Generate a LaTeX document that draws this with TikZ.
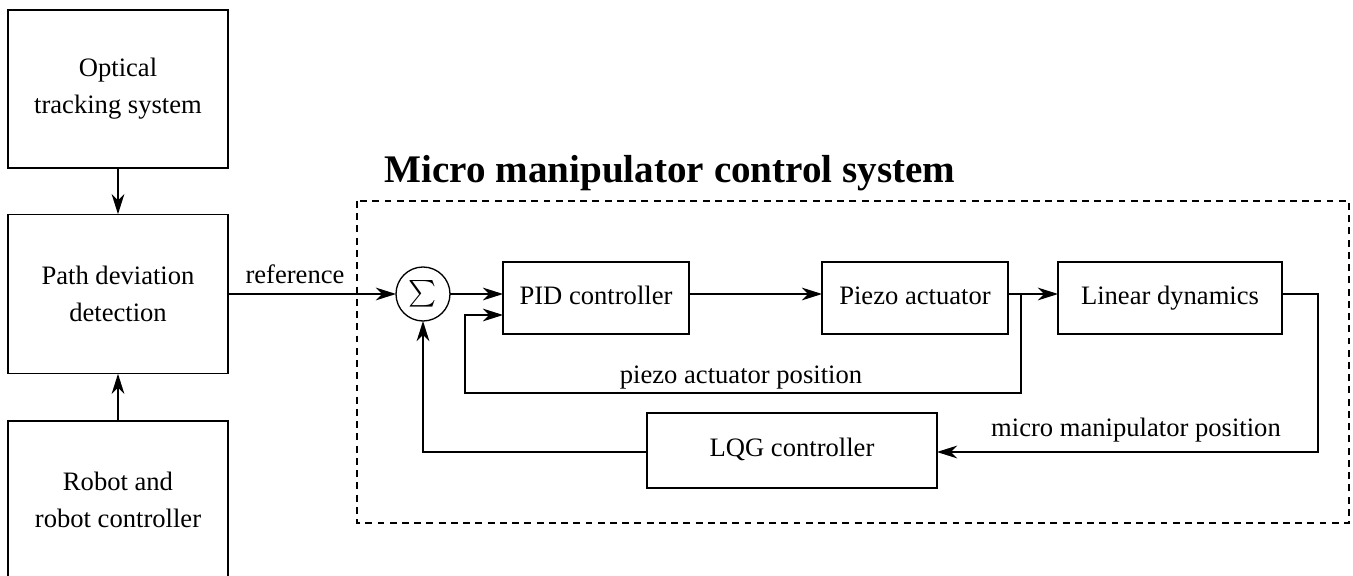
\documentclass[tikz,border=0pt]{standalone}
\usepackage{fontspec}
\setmainfont{Liberation Serif}
\usetikzlibrary{arrows.meta}
\begin{document}
\begin{tikzpicture}[x=0.376pt,y=-0.376pt,
  every path/.style={line width=0.5pt},
  blk/.style={draw, line width=0.5pt, inner sep=0pt, outer sep=0pt, align=center,
    font=\fontsize{10pt}{14pt}\selectfont},
  one/.style={blk, text height=7pt, text depth=2.2pt},
  lbl/.style={font=\fontsize{10pt}{12pt}\selectfont, inner sep=0pt, anchor=base},
  arr/.style={-{Stealth[length=7.6pt,width=4.8pt,inset=2.4pt]}},
  frame/.style={draw, dash pattern=on 2.6pt off 2pt, line width=0.5pt}]
\useasboundingbox (0,0) rectangle (1353,576);

% left column
\node[blk, minimum width=82.7pt, minimum height=59.4pt] (opt) at (118,89) {Optical\\tracking system};
\node[blk, minimum width=82.7pt, minimum height=60pt] (path) at (118,294) {Path deviation\\detection};
\node[blk, minimum width=82.7pt, minimum height=59.4pt] (rob) at (118,500) {Robot and\\robot controller};

% frame and title
\draw[frame] (357,201) rectangle (1349,523);
\node[font=\fontsize{14.7pt}{16pt}\selectfont\bfseries, inner sep=0pt, anchor=base west] (title) at (384,183) {Micro manipulator control system};

% control loop blocks
\node[draw, circle, minimum size=20.3pt, inner sep=0pt, outer sep=0pt] (sum) at (423,294) {\fontsize{12pt}{13pt}\selectfont$\sum$};
\node[one, minimum width=69.9pt, minimum height=27.1pt] (pid) at (596,298) {PID controller};
\node[one, minimum width=69.9pt, minimum height=27.1pt] (piezo) at (915,298) {Piezo actuator};
\node[one, minimum width=84.2pt, minimum height=27.1pt] (lin) at (1170,298) {Linear dynamics};
\node[one, minimum width=109pt, minimum height=28.2pt] (lqg) at (792,450.5) {LQG controller};

% coordinates
\coordinate (br) at (1021,294);
\coordinate (b1) at (1021,393);
\coordinate (b2) at (465,393);
\coordinate (b3) at (465,315);
\coordinate (m0) at (1282,294);
\coordinate (m1) at (1318,294);
\coordinate (m2) at (1318,452);
\coordinate (l1) at (423,452);

% connectors
\draw[arr] (opt.south) -- (path.north);
\draw[arr] (rob.north) -- (path.south);
\draw[arr] (path.east |- sum) -- (sum.west);
\node[lbl] (reflbl) at (295,284) {reference};
\draw[arr] (sum.east) -- (pid.west |- sum);
\draw[arr] (pid.east |- sum) -- (piezo.west |- sum);
\draw[arr] (piezo.east |- sum) -- (lin.west |- sum);
\draw[arr] (br) -- (b1) -- (b2) -- (b3) -- (pid.west |- b3);
\node[lbl] (pzlbl) at (741,384) {piezo actuator position};
\draw[arr] (lin.east |- m0) -- (m1) -- (m2) -- (lqg.east |- m2);
\node[lbl] (mmlbl) at (1136,436) {micro manipulator position};
\draw[arr] (lqg.west |- m2) -- (l1) -- (sum.south);
\end{tikzpicture}
\end{document}
